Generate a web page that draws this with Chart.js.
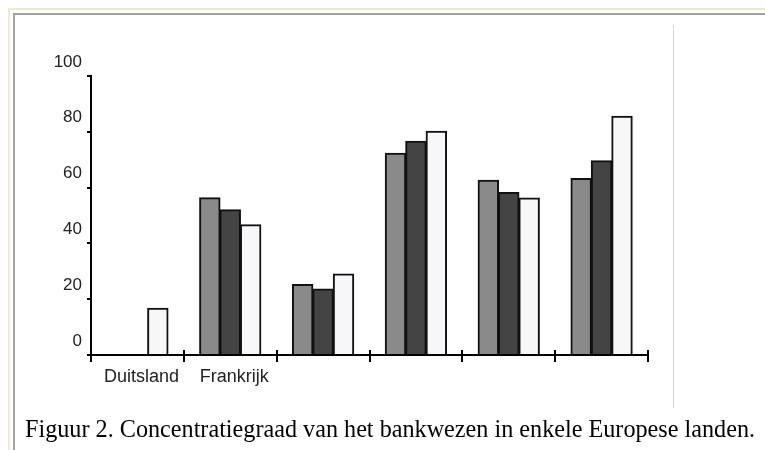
<!DOCTYPE html>
<html>
<head>
<meta charset="utf-8">
<script src="https://cdn.jsdelivr.net/npm/chart.js@4.4.1/dist/chart.umd.min.js"></script>
<style>
  html, body { margin: 0; padding: 0; background: #ffffff; }
  body { width: 765px; height: 450px; position: relative; overflow: hidden; }
  #c { position: absolute; left: 0; top: 0; }
  .ln { position: absolute; }
  #caption { position: absolute; left: 25px; top: 417.4px; font-family: "Liberation Serif", "Times New Roman", serif; font-size: 24.2px; line-height: 24px; color: #000; white-space: nowrap; }
</style>
</head>
<body>
<div class="ln" style="left:8px;top:8px;width:757px;height:2px;background:#ece9d8;"></div>
<div class="ln" style="left:8px;top:8px;width:2px;height:442px;background:#ece9d8;"></div>
<div class="ln" style="left:13px;top:13px;width:752px;height:2px;background:#a3a39b;"></div>
<div class="ln" style="left:13px;top:13px;width:2px;height:437px;background:#a3a39b;"></div>
<div class="ln" style="left:673px;top:25px;width:1px;height:383px;background:#d4d4d4;"></div>
<canvas id="c" width="765" height="450"></canvas>
<div id="caption">Figuur 2. Concentratiegraad van het bankwezen in enkele Europese landen.</div>
<script>
const categories = ['Duitsland', 'Frankrijk', '', '', '', ''];
const seriesA = [null, 56.4, 25.3, 72.3, 62.6, 63.3];
const seriesB = [null, 52.1, 23.7, 76.6, 58.2, 69.6];
const seriesC = [16.8, 46.7, 29, 80.2, 56.3, 85.6];
const yTickValues = [0, 20, 40, 60, 80, 100];

const CHART_LEFT = 91, CHART_RIGHT = 648, CHART_TOP = 76, CHART_BOTTOM = 355;

const boundaryTicks = {
  id: 'boundaryTicks',
  afterDraw(chart) {
    const x = chart.scales.x;
    const ctx = chart.ctx;
    const n = categories.length;
    const w = x.getPixelForValue(1) - x.getPixelForValue(0);
    const y0 = chart.chartArea.bottom;
    ctx.save();
    ctx.strokeStyle = '#000';
    ctx.lineWidth = 2;
    for (let i = 0; i <= n; i++) {
      const px = Math.round(x.getPixelForValue(0) - w / 2 + i * w);
      ctx.beginPath();
      ctx.moveTo(px, y0 - 5);
      ctx.lineTo(px, y0 + 7);
      ctx.stroke();
    }
    ctx.beginPath();
    ctx.moveTo(chart.chartArea.left - 4, y0);
    ctx.lineTo(chart.chartArea.left, y0);
    ctx.stroke();
    ctx.restore();
  }
};

new Chart(document.getElementById('c'), {
  type: 'bar',
  data: {
    labels: categories,
    datasets: [
      { data: seriesA, backgroundColor: '#8a8a8a', borderColor: '#111', borderWidth: 2, inflateAmount: 0.5 },
      { data: seriesB, backgroundColor: '#444444', borderColor: '#111', borderWidth: 2, inflateAmount: 0.5 },
      { data: seriesC, backgroundColor: '#f7f7f9', borderColor: '#111', borderWidth: 2, inflateAmount: 0.5 }
    ]
  },
  options: {
    responsive: false,
    animation: false,
    devicePixelRatio: 1,
    layout: { padding: { left: 0, top: CHART_TOP, right: 765 - CHART_RIGHT, bottom: 0 } },
    plugins: { legend: { display: false }, tooltip: { enabled: false }, title: { display: false } },
    datasets: { bar: { categoryPercentage: 0.66, barPercentage: 1.0 } },
    scales: {
      x: {
        offset: true,
        grid: { display: false },
        border: { display: true, color: '#000', width: 2 },
        ticks: { color: '#222', font: { family: 'Liberation Sans, Arial, sans-serif', size: 18 }, padding: 3, labelOffset: 4, maxRotation: 0, autoSkip: false },
        afterFit(s) { s.height = 450 - CHART_BOTTOM; }
      },
      y: {
        min: 0, max: 100,
        afterBuildTicks(s) { s.ticks = yTickValues.map(v => ({ value: v })); },
        grid: { drawOnChartArea: false, drawTicks: true, tickLength: 4, color: '#000', lineWidth: 2 },
        border: { display: true, color: '#000', width: 2 },
        ticks: { color: '#222', font: { family: 'Liberation Sans, Arial, sans-serif', size: 17 }, padding: 5, labelOffset: -14 },
        afterFit(s) { s.width = CHART_LEFT; }
      }
    }
  },
  plugins: [boundaryTicks]
});
</script>
</body>
</html>
